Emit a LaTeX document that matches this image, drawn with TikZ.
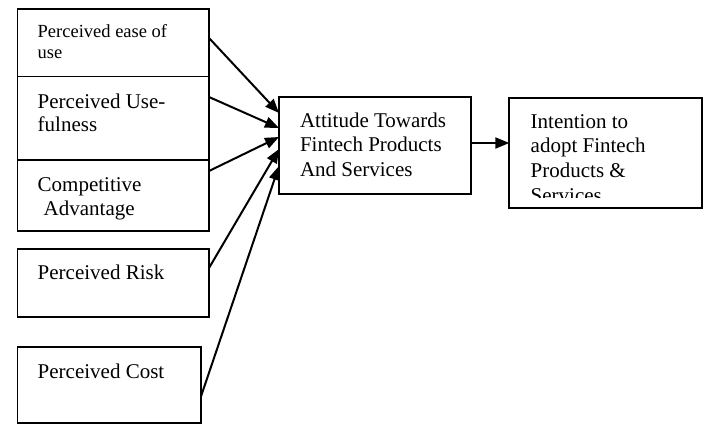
\documentclass[tikz,border=0pt]{standalone}
\usepackage{fontspec}
\setmainfont{Liberation Serif}
\usetikzlibrary{arrows.meta}
\begin{document}
\begin{tikzpicture}[x=1pt,y=-1pt,
  box/.style={draw, line width=1.8pt, anchor=north west, inner sep=0pt, outer sep=0pt},
  txt/.style={anchor=base west, align=left, inner sep=0pt, outer sep=0pt,
              font=\fontsize{21}{23.4}\selectfont},
  link/.style={line width=2pt, -{Triangle[length=14pt,width=11pt]}}]
\useasboundingbox (0,0) rectangle (708,425);

% factor boxes on the left
\node[box, minimum width=191.5pt, minimum height=67.5pt] (ease) at (17.5,9) {};
\node[box, minimum width=191.5pt, minimum height=83.5pt] (useful) at (17.5,76.5) {};
\node[box, minimum width=191.5pt, minimum height=70.7pt] (comp) at (17.5,160) {};
\node[box, minimum width=191.5pt, minimum height=67.4pt] (risk) at (17.5,249.3) {};
\node[box, minimum width=183.5pt, minimum height=76pt] (cost) at (17.5,347.3) {};

% attitude and intention boxes
\node[box, minimum width=192pt, minimum height=97pt] (att) at (279,97) {};
\node[box, minimum width=192.4pt, minimum height=110.6pt] (intent) at (509.3,97.7) {};

% box texts (each placed by the baseline of its last line)
\node[txt, font=\fontsize{18.5}{21}\selectfont] (easeT) at (37.7,58.3) {Perceived ease of\\use};
\node[txt] (usefulT) at (37.7,131.7) {Perceived Use-\\fulness};
\node[txt] (compT) at (37.7,215) {Competitive\\\hspace*{6pt}Advantage};
\node[txt] (riskT) at (37.7,279.3) {Perceived Risk};
\node[txt] (costT) at (37.7,378.3) {Perceived Cost};
\node[txt, font=\fontsize{21}{24.5}\selectfont] (attT) at (300,176)
  {Attitude Towards\\Fintech Products\\And Services};
\begin{scope}
  \clip (510,98) rectangle (701,197);
  \node[txt, font=\fontsize{21}{24.6}\selectfont] (intentT) at (530.7,202.1)
    {Intention to\\adopt Fintech\\Products \&\\Services};
\end{scope}

% connectors
\draw[link] ([yshift=4.75pt]ease.east)  -- ([yshift=32.5pt]att.west);
\draw[link] ([yshift=21.25pt]useful.east) -- ([yshift=17.5pt]att.west);
\draw[link] ([yshift=24.35pt]comp.east) -- ([yshift=8.5pt]att.west);
\draw[link] ([yshift=15pt]risk.east)    -- ([yshift=-3.5pt]att.west);
\draw[link] ([yshift=-11.1pt]cost.east) -- ([yshift=-20.5pt]att.west);
\draw[link] ([yshift=2.5pt]att.east) -- ([yshift=2.5pt]att.east -| intent.west);
\end{tikzpicture}
\end{document}
